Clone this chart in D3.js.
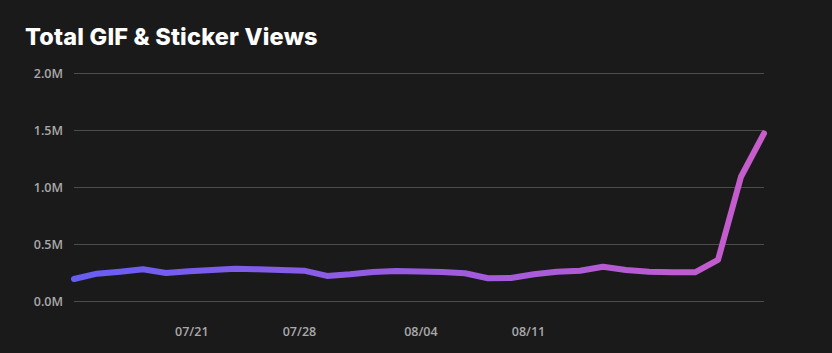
<html>
<head>
<meta charset="utf-8">
<style>
  body { margin: 0; background: #1b1a1b; }
  svg { display: block; }
  .title { font-family: Inter, sans-serif; font-weight: 800; font-size: 23.5px; fill: #fff; letter-spacing: 0.2px; }
  .axis text { font-family: "Open Sans", sans-serif; font-size: 12.5px; fill: #a9a9a9; font-weight: 600; }
  .axis--y .tick line { stroke: #4d4c4d; }
  .axis .domain { display: none; }
  .axis--x .tick line { display: none; }
</style>
</head>
<body>
<script src="https://cdn.jsdelivr.net/npm/d3@7"></script>
<script>
// daily views, in millions
var views = [0.193, 0.24, 0.257, 0.278, 0.245, 0.26, 0.272, 0.283, 0.278, 0.272,
             0.266, 0.22, 0.234, 0.254, 0.263, 0.258, 0.254, 0.243, 0.2, 0.202,
             0.234, 0.257, 0.265, 0.30, 0.272, 0.257, 0.252, 0.252, 0.36, 1.09, 1.47];
var yTicks = [0, 0.5, 1.0, 1.5, 2.0];
var xTickLabels = ["07/21", "07/28", "08/04", "08/11"];
var xTickAt = [5.1, 9.78, 15.06, 19.74];   // where each label sits along the series

var svg = d3.select("body").append("svg")
    .attr("width", 832)
    .attr("height", 353);

var margin = {left: 74, right: 68, top: 73, bottom: 52};
var width = 832 - margin.left - margin.right,
    height = 353 - margin.top - margin.bottom;

var x = d3.scaleLinear().domain([0, views.length - 1]).range([margin.left, margin.left + width]);
var y = d3.scaleLinear().domain([0, 2]).range([margin.top + height, margin.top]);

svg.append("text")
    .attr("class", "title")
    .attr("x", 25)
    .attr("y", 45)
    .text("Total GIF & Sticker Views");

// y axis with gridlines
svg.append("g")
    .attr("class", "axis axis--y")
    .attr("transform", "translate(" + margin.left + ",0)")
    .call(d3.axisLeft(y).tickValues(yTicks).tickSize(-width).tickPadding(11)
      .tickFormat(function(d) { return d3.format(".1f")(d) + "M"; }));

// x axis labels
svg.append("g")
    .attr("class", "axis axis--x")
    .attr("transform", "translate(0," + (margin.top + height) + ")")
    .call(d3.axisBottom(x).tickValues(xTickAt).tickSize(0).tickPadding(26)
      .tickFormat(function(d, i) { return xTickLabels[i]; }));

// horizontal gradient for the line
var grad = svg.append("defs").append("linearGradient")
    .attr("id", "lineGrad")
    .attr("gradientUnits", "userSpaceOnUse")
    .attr("x1", x(0)).attr("x2", x(views.length - 1))
    .attr("y1", 0).attr("y2", 0);
grad.append("stop").attr("offset", "0%").attr("stop-color", "#675ef4");
grad.append("stop").attr("offset", "50%").attr("stop-color", "#9a5be0");
grad.append("stop").attr("offset", "100%").attr("stop-color", "#c85ccb");

var line = d3.line()
    .x(function(d, i) { return x(i); })
    .y(function(d) { return y(d); });

svg.append("path")
    .datum(views)
    .attr("fill", "none")
    .attr("stroke", "url(#lineGrad)")
    .attr("stroke-width", 6)
    .attr("stroke-linecap", "round")
    .attr("stroke-linejoin", "round")
    .attr("d", line);
</script>
</body>
</html>
